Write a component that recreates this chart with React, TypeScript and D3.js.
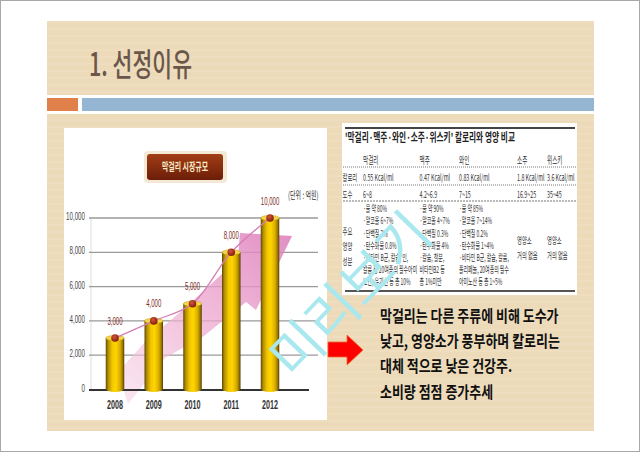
import React from 'react';
import * as d3 from 'd3';

// ---------- data ----------
const years = ['2008', '2009', '2010', '2011', '2012'];
const marketSize = [3000, 4000, 5000, 8000, 10000];
const valueLabels = ['3,000', '4,000', '5,000', '8,000', '10,000'];
const yTicks = [0, 2000, 4000, 6000, 8000, 10000];
const yTickLabels = ['0', '2,000', '4,000', '6,000', '8,000', '10,000'];
const chartTitle = '막걸리 시장규모';
const unitLabel = '(단위 : 억원)';

const slideTitle = '1. 선정이유';
const tableTitle = "'막걸리·맥주·와인·소주·위스키' 칼로리와 영양 비교";
const drinks = ['막걸리', '맥주', '와인', '소주', '위스키'];
const rowLabels = ['칼로리', '도수'];
const calories = ['0.55 Kcal/ml', '0.47 Kcal/ml', '0.83 Kcal/ml', '1.8 Kcal/ml', '3.6 Kcal/ml'];
const abv = ['6~8', '4.2~6.9', '7~15', '16.9~25', '35~45'];
const nutriLabel = ['주요', '영양', '성분'];
const makgeolliNutri = ['·물 약 80%', '·알코올 6~7%', '·단백질 2%', '·탄수화물 0.8%', '·비타민 B군, 칼슘, 인,', '칼륨 등 20여종의 필수아미', '노산, 유기산 등 총 10%'];
const beerNutri = ['·물 약 90%', '·알코올 4~7%', '·단백질 0.3%', '·탄수화물 4%', '·칼슘, 철분,', '비타민B2 등', '총 1%미만'];
const wineNutri = ['·물 약 85%', '·알코올 7~14%', '·단백질 0.2%', '·탄수화물 1~4%', '·비타민 B군, 칼슘, 칼륨,', '폴리페놀, 20여종의 필수', '아미노산 등 총 1~5%'];
const sojuNutri = ['영양소', '거의 없음'];
const whiskyNutri = ['영양소', '거의 없음'];
const bodyLines = ['막걸리는 다른 주류에 비해 도수가', '낮고, 영양소가 풍부하며 칼로리는', '대체 적으로 낮은 건강주.', '소비량 점점 증가추세'];
const watermark = '미리보기';

const KR = '"Noto Sans CJK KR", "Noto Sans", sans-serif';
const LAT = '"Liberation Sans", Arial, sans-serif';

const CT = ({ x, y, sx = 1, anchor = 'start', children, ...rest }: any) => (
  <text transform={`translate(${x},${y}) scale(${sx},1)`} textAnchor={anchor} {...rest}>{children}</text>
);

export default function App() {
  const x = d3.scalePoint<string>().domain(years).range([115, 270]);
  const y = d3.scaleLinear().domain([0, 10000]).range([389.5, 218]);
  const bw = 18.5;
  const pts: [number, number][] = years.map((yr, i) => [x(yr)!, y(marketSize[i])]);
  const curve = d3.line().curve(d3.curveCatmullRom.alpha(0.5))(pts) || '';

  const arrowPts = [
    [118, 372], [145, 342], [185, 308], [224, 272], [238, 258], [240, 233],
    [292, 236], [256, 310], [246, 302], [204, 336], [165, 358], [128, 404],
  ];
  const arrowPath = d3.line()(arrowPts as [number, number][]) + 'Z';

  const colX = [363, 419.5, 459, 517, 547];
  const nutriCols = [makgeolliNutri, beerNutri, wineNutri];
  const tsx = 0.56;

  return (
    <div style={{ position: 'absolute', left: 0, top: 0 }}>
      <svg width={640} height={452} viewBox="0 0 640 452" style={{ display: 'block' }}>
        <defs>
          <pattern id="stripe" width="8" height="7" patternUnits="userSpaceOnUse">
            <rect width="8" height="7" fill="#ECDAB9" />
            <rect y="0" width="8" height="2" fill="#EEDEBF" />
          </pattern>
          <linearGradient id="barG" x1="0" x2="1" y1="0" y2="0">
            <stop offset="0" stopColor="#5A4606" />
            <stop offset="0.12" stopColor="#B08A00" />
            <stop offset="0.35" stopColor="#F2C800" />
            <stop offset="0.55" stopColor="#FFD500" />
            <stop offset="0.78" stopColor="#D8AC00" />
            <stop offset="0.92" stopColor="#957300" />
            <stop offset="1" stopColor="#4A3904" />
          </linearGradient>
          <radialGradient id="dotG" cx="0.4" cy="0.35" r="0.7">
            <stop offset="0" stopColor="#D5553A" />
            <stop offset="1" stopColor="#7A1A0A" />
          </radialGradient>
          <linearGradient id="arrowG" gradientUnits="userSpaceOnUse" x1="125" y1="400" x2="285" y2="240">
            <stop offset="0" stopColor="#F6D0E3" stopOpacity="0.55" />
            <stop offset="0.5" stopColor="#EDA8CF" stopOpacity="0.75" />
            <stop offset="1" stopColor="#DE7FBC" stopOpacity="0.85" />
          </linearGradient>
          <linearGradient id="titleBox" x1="0" x2="0" y1="0" y2="1">
            <stop offset="0" stopColor="#A23E16" />
            <stop offset="1" stopColor="#6C1D08" />
          </linearGradient>
        </defs>

        <rect x={0} y={0} width={640} height={452} fill="#fff" />
        <rect x={0.5} y={0.5} width={639} height={451} fill="none" stroke="#A8A8A8" />

        {/* header */}
        <rect x={47} y={21} width={547} height={74} fill="url(#stripe)" />
        <text x={89} y={76} fontFamily={KR} fontWeight={500} fontSize={32} fill="#6A564B" textLength={103} lengthAdjust="spacingAndGlyphs">{slideTitle}</text>
        <rect x={47} y={98} width={31} height={13} fill="#E0804A" />
        <rect x={82} y={98} width={512} height={13} fill="#94B6D2" />

        {/* main panel */}
        <rect x={47} y={114} width={547} height={317} fill="url(#stripe)" />

        {/* chart */}
        <rect x={64} y={128} width={263} height={292} fill="#fff" />
        <rect x={144} y={151} width={83} height={32} rx={4} fill="#F3E9D6" />
        <rect x={147} y={154} width={76} height={26} rx={3} fill="url(#titleBox)" />
        <CT x={185} y={171} sx={0.63} anchor="middle" fontFamily={KR} fontWeight={700} fontSize={11} fill="#FBEBC8">{chartTitle}</CT>
        <CT x={288} y={199} sx={0.6} fontFamily={KR} fontSize={10} fill="#333">{unitLabel}</CT>

        <line x1={91} x2={91} y1={217} y2={389} stroke="#DDD" strokeWidth={1} />
        {yTicks.filter(t => t > 0).map(t => (
          <line key={t} x1={89} x2={318} y1={y(t)} y2={y(t)} stroke="#9A9A9A" strokeWidth={1.3} />
        ))}
        {yTicks.map((t, i) => (
          <CT key={t} x={85} y={y(t) + 2} sx={0.62} anchor="end" fontFamily={LAT} fontSize={10} fill="#444">{yTickLabels[i]}</CT>
        ))}

        <path d={arrowPath} fill="url(#arrowG)" />

        <line x1={89} x2={309} y1={390} y2={390} stroke="#333" strokeWidth={2.2} />

        {years.map((yr, i) => {
          const cx = x(yr)!;
          const top = y(marketSize[i]);
          const bot = 389;
          const x0 = cx - bw / 2;
          return (
            <g key={yr}>
              <path d={`M${x0},${top} L${x0},${bot} A${bw / 2},3 0 0 0 ${x0 + bw},${bot} L${x0 + bw},${top} Z`} fill="url(#barG)" />
              <ellipse cx={cx} cy={top} rx={bw / 2} ry={2.6} fill="#F6D64A" stroke="#C49A00" strokeWidth={0.5} />
            </g>
          );
        })}

        <path d={curve} fill="none" stroke="#D67DB4" strokeWidth={1.3} />
        {pts.map(([px, py], i) => (
          <g key={i}>
            <circle cx={px} cy={py} r={3.8} fill="url(#dotG)" />
            <CT x={px} y={py - 13.5} sx={0.55} anchor="middle" fontFamily={LAT} fontSize={11} fill="#7E2C1E">{valueLabels[i]}</CT>
          </g>
        ))}
        {years.map(yr => (
          <CT key={yr} x={x(yr)!} y={409} sx={0.6} anchor="middle" fontFamily={LAT} fontWeight={700} fontSize={12} fill="#333">{yr}</CT>
        ))}

        {/* table */}
        <rect x={342} y={123} width={235} height={172} fill="#fff" />
        <line x1={345} x2={575} y1={128} y2={128} stroke="#444" strokeWidth={2} />
        <text x={345} y={142} fontFamily={KR} fontWeight={700} fontSize={12} fill="#222" textLength={170} lengthAdjust="spacingAndGlyphs">{tableTitle}</text>
        {drinks.map((d, i) => (
          <CT key={d} x={colX[i]} y={163.5} sx={tsx} fontFamily={KR} fontSize={10} fill="#333">{d}</CT>
        ))}
        <line x1={343} x2={576} y1={167} y2={167} stroke="#777" strokeWidth={1} strokeDasharray="1,1" />
        <CT x={342.5} y={180.5} sx={tsx} fontFamily={KR} fontSize={9.5} fill="#333">{rowLabels[0]}</CT>
        {calories.map((c, i) => (
          <CT key={i} x={colX[i]} y={180.5} sx={tsx} fontFamily={KR} fontSize={9.5} fill="#333">{c}</CT>
        ))}
        <line x1={343} x2={576} y1={185} y2={185} stroke="#777" strokeWidth={1} strokeDasharray="1,1" />
        <CT x={342.5} y={197.5} sx={tsx} fontFamily={KR} fontSize={9.5} fill="#333">{rowLabels[1]}</CT>
        {abv.map((c, i) => (
          <CT key={i} x={colX[i]} y={197.5} sx={tsx} fontFamily={KR} fontSize={9.5} fill="#333">{c}</CT>
        ))}
        <line x1={343} x2={576} y1={201} y2={201} stroke="#777" strokeWidth={1} strokeDasharray="2,1" />
        {nutriLabel.map((l, i) => (
          <CT key={l} x={342.5} y={234.5 + i * 15} sx={tsx} fontFamily={KR} fontSize={9.5} fill="#333">{l}</CT>
        ))}
        {nutriCols.map((col, ci) =>
          col.map((l, li) => (
            <CT key={ci + '-' + li} x={colX[ci]} y={212.2 + li * 12.2} sx={0.52} fontFamily={KR} fontSize={9.5} fill="#333">{l}</CT>
          ))
        )}
        {[sojuNutri, whiskyNutri].map((col, ci) =>
          col.map((l, li) => (
            <CT key={'s' + ci + li} x={colX[3 + ci]} y={243.5 + li * 15} sx={tsx} fontFamily={KR} fontSize={9.5} fill="#333">{l}</CT>
          ))
        )}
        <line x1={345} x2={575} y1={291} y2={291} stroke="#555" strokeWidth={2} />

        {/* red arrow */}
        <path d="M328,342 L347,342 L347,335 L363,350 L347,365 L347,357 L328,357 Z" fill="#FF0000" stroke="#F26A2A" strokeWidth={0.8} />

        {/* body text */}
        {bodyLines.map((l, i) => (
          <CT key={i} x={380} y={322 + i * 25.2} sx={0.81} fontFamily={KR} fontWeight={700} fontSize={16} fill="#111">{l}</CT>
        ))}

        {/* watermark */}
        <text x={347} y={292} transform="rotate(-46 347 292)" textAnchor="middle" dominantBaseline="central" fontFamily={KR} fontSize={55} fill="#A8E8EE">{watermark}</text>
      </svg>
    </div>
  );
}
